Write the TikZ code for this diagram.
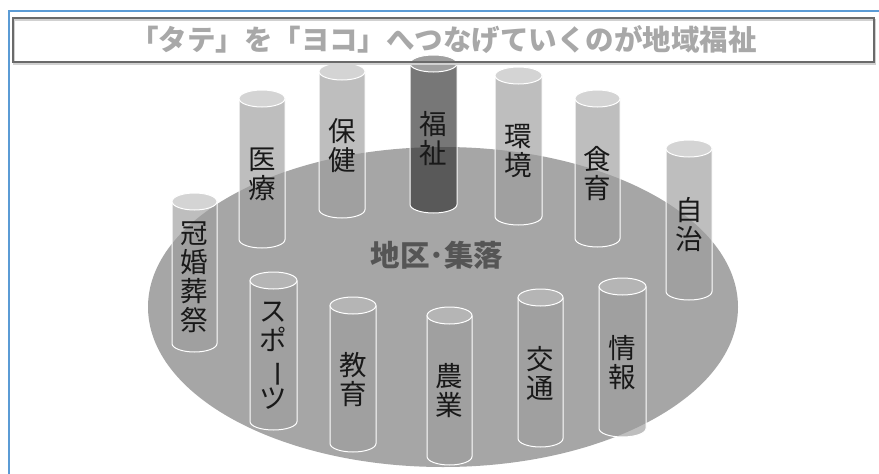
\documentclass[tikz,border=0pt]{standalone}
\usepackage{fontspec}
\usepackage{graphicx}
\newfontfamily\jp{Noto Sans CJK JP}
\definecolor{frameblue}{HTML}{5B9BD5}
\definecolor{areagray}{HTML}{A6A6A6}
\definecolor{titlegray}{HTML}{A8A8A8}
\definecolor{boxgray}{HTML}{6A6A6A}
\definecolor{labelgray}{HTML}{555555}
\definecolor{cylbodyc}{HTML}{9D9D9D}
\definecolor{cyltopc}{HTML}{BEBEBE}
\definecolor{darkbodyc}{HTML}{323232}
\definecolor{darktopc}{HTML}{707070}
\tikzset{
  cylbody/.style={fill=cylbodyc, fill opacity=.66},
  cyltop/.style={fill=cyltopc, fill opacity=.66},
  darkcyl/.style={cylbody/.style={fill=darkbodyc, fill opacity=.66},
                  cyltop/.style={fill=darktopc, fill opacity=.66}},
  lightcyl/.style={},
  cyledge/.style={draw=white, line width=1pt},
  cyltext/.style={font=\jp\fontsize{27.5}{29}\selectfont, align=center, text=black!90, inner sep=0pt},
  titlebox/.style={draw=boxgray, line width=2pt, minimum width=861pt, minimum height=44pt,
                   inner sep=0pt, text=titlegray, font=\jp\bfseries\fontsize{28.5}{30}\selectfont},
  arealabel/.style={font=\jp\bfseries\fontsize{29.5}{30}\selectfont, text=labelgray, inner sep=0pt}
}
% #1 name, #2 left, #3 right, #4 top, #5 bottom, #6 style, #7 text
\newcommand\tcyl[7]{%
  \pgfmathsetmacro\cylrx{(#3-#2)/2}%
  \pgfmathsetmacro\cylcx{(#3+#2)/2}%
  \pgfmathsetmacro\cylyt{#4+8.5}%
  \pgfmathsetmacro\cylyb{#5-8.5}%
  \pgfmathsetmacro\cylym{(\cylyt+\cylyb)/2+5}%
  \begin{scope}[#6]
    \path[cylbody] (#2,\cylyt) -- (#2,\cylyb)
      arc[start angle=180,end angle=0,x radius=\cylrx,y radius=8.5]
      -- (#3,\cylyt)
      arc[start angle=0,end angle=180,x radius=\cylrx,y radius=8.5] -- cycle;
    \draw[cyledge] (#2,\cylyt) -- (#2,\cylyb)
      arc[start angle=180,end angle=0,x radius=\cylrx,y radius=8.5] -- (#3,\cylyt);
    \path[cyltop,cyledge] (\cylcx,\cylyt) ellipse[x radius=\cylrx,y radius=8.5];
    \node[cyltext] (#1) at (\cylcx,\cylym) {#7};
  \end{scope}}
\begin{document}
\begin{tikzpicture}[x=1pt,y=-1pt]
\useasboundingbox (0,0) rectangle (879,474);
\fill[white] (0,0) rectangle (879,474);
\draw[frameblue, line width=2pt] (9,475) -- (9,11) -- (880,11);
\fill[areagray] (443,307) ellipse[x radius=295, y radius=160];
\node[arealabel] (area) at (437,255) {地区･集落};
% back row
\tcyl{iryo}{239}{285}{90}{248}{lightcyl}{医\\療}
\tcyl{hoken}{319}{365}{63}{218}{lightcyl}{保\\健}
\tcyl{fukushi}{410}{457}{55}{213}{darkcyl}{福\\祉}
\tcyl{kankyo}{495}{542}{67}{225}{lightcyl}{環\\境}
\tcyl{shokuiku}{575}{620}{90}{247}{lightcyl}{食\\育}
\tcyl{jichi}{666}{712}{140}{300}{lightcyl}{自\\治}
\tcyl{kankon}{172}{217}{193}{352}{lightcyl}{冠\\婚\\葬\\祭}
% front row
\tcyl{sports}{250}{297}{272}{430}{lightcyl}{ス\\ポ\\\rotatebox[origin=c]{-90}{ー}\\ツ}
\tcyl{kyoiku}{330}{376}{297}{452}{lightcyl}{教\\育}
\tcyl{nogyo}{427}{472}{307}{465}{lightcyl}{農\\業}
\tcyl{kotsu}{518}{563}{289}{447}{lightcyl}{交\\通}
\tcyl{joho}{599}{646}{278}{437}{lightcyl}{情\\報}
% title
\draw[black!18, line width=2pt] (14,20) rectangle (875,64);
\node[titlebox] (title) at (443.5,40) {「タテ」を「ヨコ」へつなげていくのが地域福祉};
\end{tikzpicture}
\end{document}
